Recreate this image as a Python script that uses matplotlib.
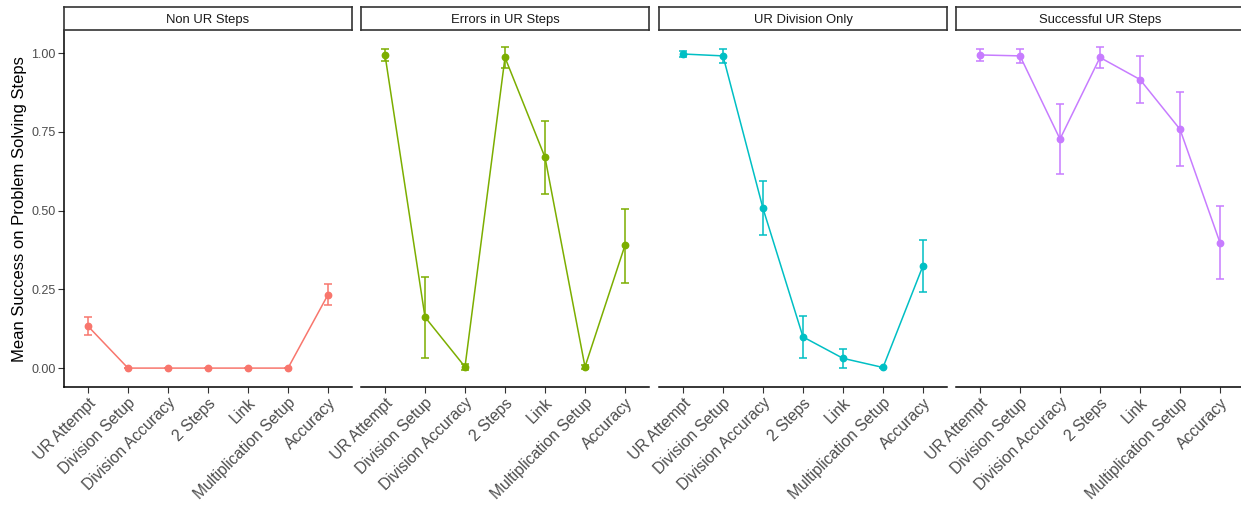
import matplotlib
matplotlib.use("Agg")
import matplotlib.pyplot as plt
import numpy as np

plt.rcParams['font.family'] = ['Liberation Sans', 'DejaVu Sans']

steps = ["UR Attempt", "Division Setup", "Division Accuracy", "2 Steps",
         "Link", "Multiplication Setup", "Accuracy"]
panels = ["Non UR Steps", "Errors in UR Steps", "UR Division Only", "Successful UR Steps"]
colors = ["#F8766D", "#7CAE00", "#00BFC4", "#C77CFF"]

mean_non_ur = [0.133, 0.0, 0.0, 0.0, 0.0, 0.0, 0.233]
lo_non_ur = [0.105, 0.0, 0.0, 0.0, 0.0, 0.0, 0.199]
hi_non_ur = [0.161, 0.0, 0.0, 0.0, 0.0, 0.0, 0.267]

mean_errors = [0.994, 0.162, 0.004, 0.986, 0.669, 0.004, 0.390]
lo_errors = [0.974, 0.033, -0.007, 0.952, 0.552, -0.004, 0.271]
hi_errors = [1.013, 0.290, 0.014, 1.019, 0.785, 0.010, 0.506]

mean_div_only = [0.997, 0.991, 0.507, 0.099, 0.031, 0.002, 0.325]
lo_div_only = [0.987, 0.969, 0.422, 0.033, 0.000, -0.001, 0.243]
hi_div_only = [1.005, 1.013, 0.594, 0.164, 0.061, 0.004, 0.406]

mean_success = [0.994, 0.991, 0.727, 0.986, 0.916, 0.758, 0.398]
lo_success = [0.974, 0.967, 0.615, 0.953, 0.841, 0.641, 0.283]
hi_success = [1.013, 1.014, 0.839, 1.018, 0.990, 0.875, 0.513]

means = [mean_non_ur, mean_errors, mean_div_only, mean_success]
lows = [lo_non_ur, lo_errors, lo_div_only, lo_success]
highs = [hi_non_ur, hi_errors, hi_div_only, hi_success]

W, H = 1241, 508
fig = plt.figure(figsize=(W / 100, H / 100), dpi=100)

lefts = [64, 361, 659, 956]
pw = 288
ax_top = 31
ax_bot = 387
strip_top = 7
strip_bot = 30

x = np.arange(len(steps))
for i in range(4):
    l = lefts[i]
    ax = fig.add_axes([l / W, 1 - ax_bot / H, pw / W, (ax_bot - ax_top) / H])
    m = np.array(means[i]); lo = np.array(lows[i]); hi = np.array(highs[i])
    ax.plot(x, m, color=colors[i], lw=1.1, zorder=2)
    ax.errorbar(x, m, yerr=[m - lo, hi - m], fmt='none', ecolor=colors[i],
                elinewidth=1.1, capsize=2.6, capthick=1.1, zorder=3)
    ax.plot(x, m, 'o', color=colors[i], ms=4.6, zorder=4)
    ax.set_xlim(-0.6, 6.6)
    ax.set_ylim(-0.06, 1.07)
    ax.set_yticks([0, 0.25, 0.5, 0.75, 1.0])
    ax.set_xticks(x)
    ax.set_xticklabels(steps, rotation=45, ha='right', va='top',
                       rotation_mode='anchor', fontsize=11.3, color='#4D4D4D')
    for s in ['top', 'right']:
        ax.spines[s].set_visible(False)
    ax.spines['bottom'].set_linewidth(1.1)
    ax.spines['bottom'].set_color('black')
    ax.tick_params(axis='x', length=4, width=0.8, color='#333333', pad=2)
    if i == 0:
        ax.set_yticklabels(["0.00", "0.25", "0.50", "0.75", "1.00"],
                           fontsize=9, color='#4D4D4D')
        ax.spines['left'].set_linewidth(1.1)
        ax.spines['left'].set_color('black')
        ax.tick_params(axis='y', length=4, width=0.8, color='#333333', pad=2)
        ax.set_ylabel("Mean Success on Problem Solving Steps", fontsize=12,
                      color='black', labelpad=3)
    else:
        ax.spines['left'].set_visible(False)
        ax.tick_params(axis='y', left=False, labelleft=False)
    ax.set_facecolor('white')

    sax = fig.add_axes([l / W, 1 - strip_bot / H, pw / W, (strip_bot - strip_top) / H])
    sax.set_xticks([]); sax.set_yticks([])
    for s in sax.spines.values():
        s.set_linewidth(1.2)
        s.set_color('#333333')
    sax.text(0.5, 0.42, panels[i], ha='center', va='center', fontsize=9.4,
             color='#1A1A1A', transform=sax.transAxes)

fig.savefig("out.png", dpi=100)
